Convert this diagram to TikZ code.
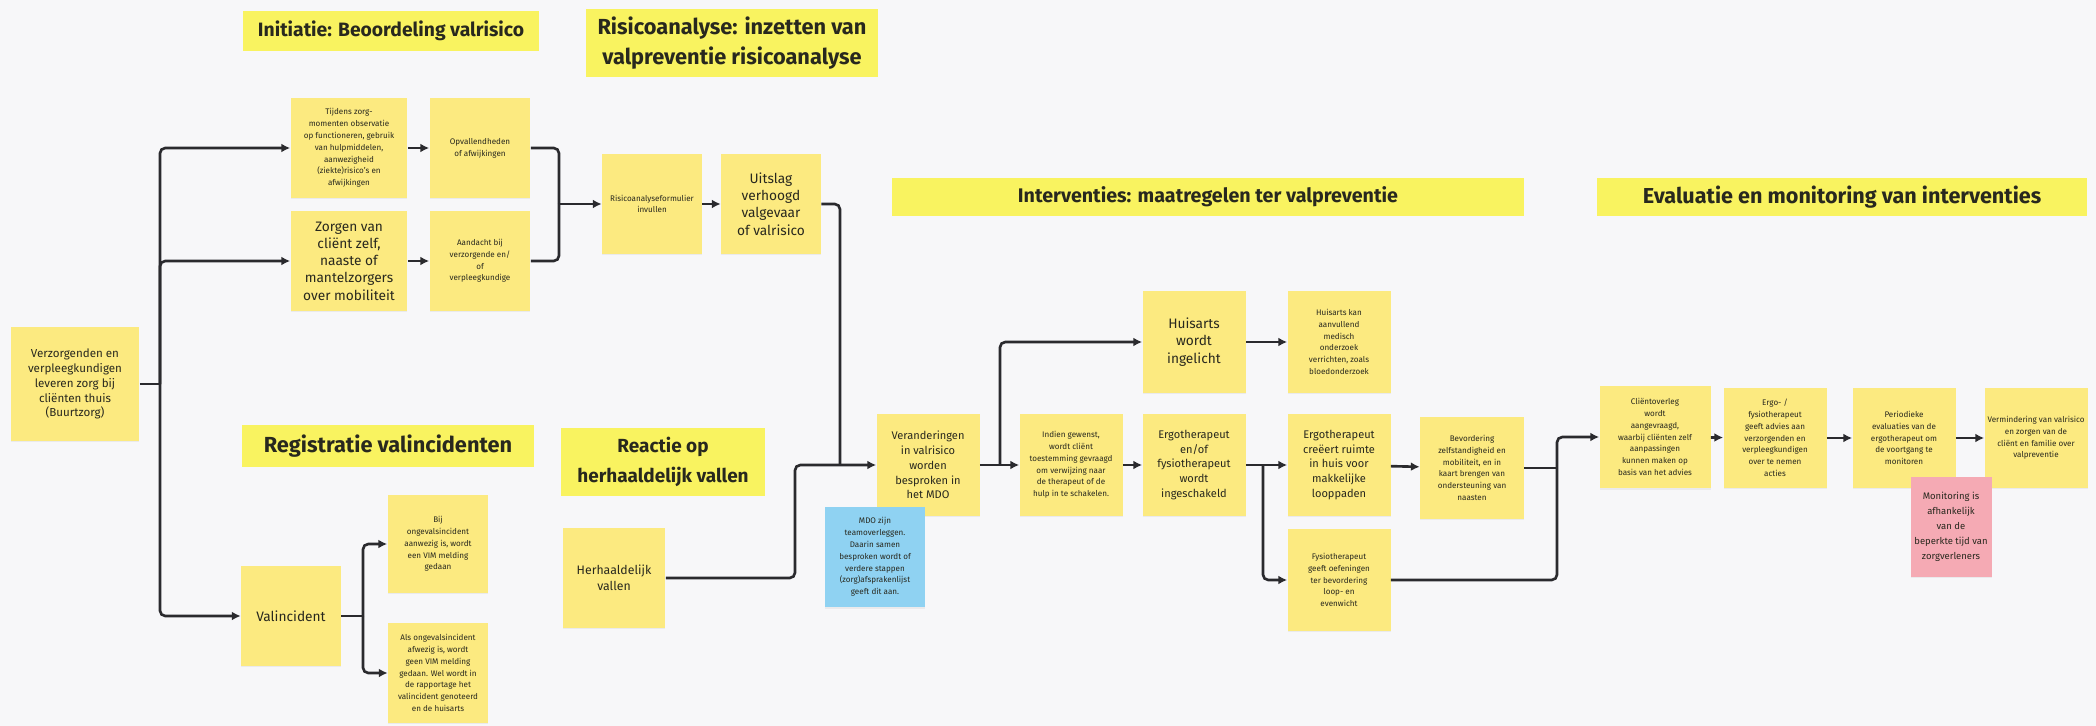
\documentclass[tikz,border=0pt]{standalone}
\usepackage{fontspec}
\setmainfont{Fira Sans}
\usetikzlibrary{arrows.meta,shadows}

\definecolor{canvas}{RGB}{247,247,249}
\definecolor{noteyellow}{RGB}{252,234,128}
\definecolor{titleyellow}{RGB}{249,243,96}
\definecolor{noteblue}{RGB}{143,210,242}
\definecolor{notepink}{RGB}{245,170,180}
\definecolor{inkcol}{RGB}{40,40,30}
\definecolor{linecol}{RGB}{42,42,46}

\tikzset{
  note/.style={fill=noteyellow, align=center, inner sep=1pt, text=inkcol,
               minimum width=2cm, minimum height=2cm,
               drop shadow={opacity=0.10, shadow xshift=0pt, shadow yshift=-0.8pt}},
  notes/.style={note, font=\fontsize{4.6}{6.7}\selectfont},
  notem/.style={note, font=\fontsize{6.3}{8.4}\selectfont},
  notel/.style={note, font=\fontsize{7.8}{9.8}\selectfont},
  heading/.style={fill=titleyellow, align=center, inner sep=0pt, text=inkcol},
  hsize/.style={font=\fontsize{#1}{17}\selectfont\bfseries},
  link/.style={draw=linecol, line width=1.5pt, rounded corners=3pt},
  arrow/.style={link, -{Latex[length=5pt,width=5pt]}},
}

\begin{document}
\begin{tikzpicture}[x=0.02cm,y=-0.02cm]
  % canvas
  \fill[canvas] (0,0) rectangle (2096,726);
  \useasboundingbox (0,0) rectangle (2096,726);

  % section headings
  \node[heading, hsize=11, minimum width=5.94cm, minimum height=0.8cm] (h1) at (391,31)
    {Initiatie: Beoordeling valrisico};
  \node[heading, hsize=12.4, minimum width=5.86cm, minimum height=1.38cm] (h2) at (732,43)
    {Risicoanalyse: inzetten van\\valpreventie risicoanalyse};
  \node[heading, hsize=11.2, minimum width=12.64cm, minimum height=0.78cm] (h3) at (1208,197)
    {Interventies: maatregelen ter valpreventie};
  \node[heading, hsize=12.3, minimum width=9.82cm, minimum height=0.78cm] (h4) at (1842,197)
    {Evaluatie en monitoring van interventies};
  \node[heading, hsize=12.4, minimum width=5.86cm, minimum height=0.86cm] (h5) at (388,446)
    {Registratie valincidenten};
  \node[heading, hsize=10.8, minimum width=4.08cm, minimum height=1.38cm] (h6) at (663,462)
    {Reactie op\\herhaaldelijk vallen};

  % initiation
  \node[note, font=\fontsize{6.6}{8.5}\selectfont, minimum width=2.58cm, minimum height=2.28cm] (start) at (75,384)
    {Verzorgenden en\\verpleegkundigen\\leveren zorg bij\\cliënten thuis\\(Buurtzorg)};
  \node[notes, minimum width=2.34cm] (obs) at (349,148)
    {Tijdens zorg-\\momenten observatie\\op functioneren, gebruik\\van hulpmiddelen,\\aanwezigheid\\(ziekte)risico's en\\afwijkingen};
  \node[notel, minimum width=2.34cm] (zorg) at (349,261)
    {Zorgen van\\cliënt zelf,\\naaste of\\mantelzorgers\\over mobiliteit};
  \node[notes, minimum width=2.02cm] (opv) at (480,148)
    {Opvallendheden\\of afwijkingen};
  \node[notes, minimum width=2.02cm] (aand) at (480,261)
    {Aandacht bij\\verzorgende en/\\of\\verpleegkundige};

  % risk analysis
  \node[notes] (ra) at (652,204)
    {Risicoanalyseformulier\\invullen};
  \node[notel] (uit) at (771,204)
    {Uitslag\\verhoogd\\valgevaar\\of valrisico};

  % fall registration
  \node[notel] (val) at (291,616) {Valincident};
  \node[notes, minimum width=2.02cm, minimum height=1.96cm] (vim1) at (438,544)
    {Bij\\ongevalsincident\\aanwezig is, wordt\\een VIM melding\\gedaan};
  \node[notes] (vim2) at (438,673)
    {Als ongevalsincident\\afwezig is, wordt\\geen VIM melding\\gedaan. Wel wordt in\\de rapportage het\\valincident genoteerd\\en de huisarts};

  % repeated falls
  \node[note, font=\fontsize{7}{9.4}\selectfont, minimum width=2.06cm] (herh) at (614,578)
    {Herhaaldelijk\\vallen};

  % interventions
  \node[notem, minimum width=2.06cm, minimum height=2.04cm] (mdo) at (928,465)
    {Veranderingen\\in valrisico\\worden\\besproken in\\het MDO};
  \node[notes, minimum width=2.06cm, minimum height=2.04cm] (wens) at (1071,465)
    {Indien gewenst,\\wordt cliënt\\toestemming gevraagd\\om verwijzing naar\\de therapeut of de\\hulp in te schakelen.};
  \node[notem, minimum width=2.06cm, minimum height=2.04cm] (ther) at (1194,465)
    {Ergotherapeut\\en/of\\fysiotherapeut\\wordt\\ingeschakeld};
  \node[notel, minimum width=2.06cm, minimum height=2.04cm] (ha) at (1194,342)
    {Huisarts\\wordt\\ingelicht};
  \node[notes, minimum width=2.06cm, minimum height=2.04cm] (haond) at (1339,342)
    {Huisarts kan\\aanvullend\\medisch\\onderzoek\\verrichten, zoals\\bloedonderzoek};
  \node[notem, minimum width=2.06cm, minimum height=2.04cm] (ergo) at (1339,465)
    {Ergotherapeut\\creëert ruimte\\in huis voor\\makkelijke\\looppaden};
  \node[notes, minimum width=2.06cm, minimum height=2.04cm] (fysio) at (1339,580)
    {Fysiotherapeut\\geeft oefeningen\\ter bevordering\\loop- en\\evenwicht};
  \node[notes, minimum width=2.08cm, minimum height=2.04cm] (bev) at (1472,468)
    {Bevordering\\zelfstandigheid en\\mobiliteit, en in\\kaart brengen van\\ondersteuning van\\naasten};

  % evaluation
  \node[notes, minimum width=2.22cm, minimum height=2.06cm] (ev1) at (1655,437)
    {Cliëntoverleg\\wordt\\aangevraagd,\\waarbij cliënten zelf\\aanpassingen\\kunnen maken op\\basis van het advies};
  \node[notes, minimum width=2.06cm] (ev2) at (1775,438)
    {Ergo- /\\fysiotherapeut\\geeft advies aan\\verzorgenden en\\verpleegkundigen\\over te nemen\\acties};
  \node[notes, minimum width=2.06cm] (ev3) at (1904,438)
    {Periodieke\\evaluaties van de\\ergotherapeut om\\de voortgang te\\monitoren};
  \node[notes, minimum width=2.06cm] (ev4) at (2036,438)
    {Vermindering van valrisico\\en zorgen van de\\cliënt en familie over\\valpreventie};

  % notes that lie over their neighbours
  \node[notes, fill=noteblue, minimum height=2.02cm] (mdoinfo) at (875,557)
    {MDO zijn\\teamoverleggen.\\Daarin samen\\besproken wordt of\\verdere stappen\\(zorg)afsprakenlijst\\geeft dit aan.};
  \node[note, fill=notepink, font=\fontsize{5.4}{8.6}\selectfont, minimum width=1.62cm] (tijd) at (1951,527)
    {Monitoring is\\afhankelijk\\van de\\beperkte tijd van\\zorgverleners};

  % junction points
  \coordinate (trunk) at (160,384);
  \coordinate (jra) at (559,204);
  \coordinate (jval) at (363,616);
  \coordinate (juit) at (840,465);
  \coordinate (jherh) at (795,465);
  \coordinate (jha) at (1000,465);
  \coordinate (jfys) at (1263,465);
  \coordinate (jev) at (1557,437);

  % connectors
  \draw[link] (start.east) -- (trunk);
  \draw[arrow] (trunk) |- (obs.west);
  \draw[arrow] (trunk) |- (zorg.west);
  \draw[arrow] (trunk) |- (val.west);
  \draw[arrow] (obs) -- (opv);
  \draw[arrow] (zorg) -- (aand);
  \draw[link] (opv.east) -| (jra);
  \draw[link] (aand.east) -| (jra);
  \draw[arrow] (jra) -- (ra.west);
  \draw[arrow] (ra) -- (uit);

  \draw[link] (val.east) -- (jval);
  \draw[arrow] (jval) |- (vim1.west);
  \draw[arrow] (jval) |- (vim2.west);

  \draw[link] (uit.east) -| (juit);
  \draw[arrow] (herh.east) -| (jherh) -- (mdo.west);
  \draw[arrow] (mdo) -- (wens);
  \draw[arrow] (jha) |- (ha.west);
  \draw[arrow] (wens) -- (ther);
  \draw[arrow] (ha) -- (haond);
  \draw[arrow] (ther) -- (ergo);
  \draw[arrow] (jfys) |- (fysio.west);
  \draw[arrow] (ergo) -- (bev);
  \draw[link] (bev.east) -- (bev.east -| jev);
  \draw[arrow] (fysio.east) -| (jev) -- (ev1.west);
  \draw[arrow] (ev1) -- (ev2);
  \draw[arrow] (ev2) -- (ev3);
  \draw[arrow] (ev3) -- (ev4);
\end{tikzpicture}
\end{document}
